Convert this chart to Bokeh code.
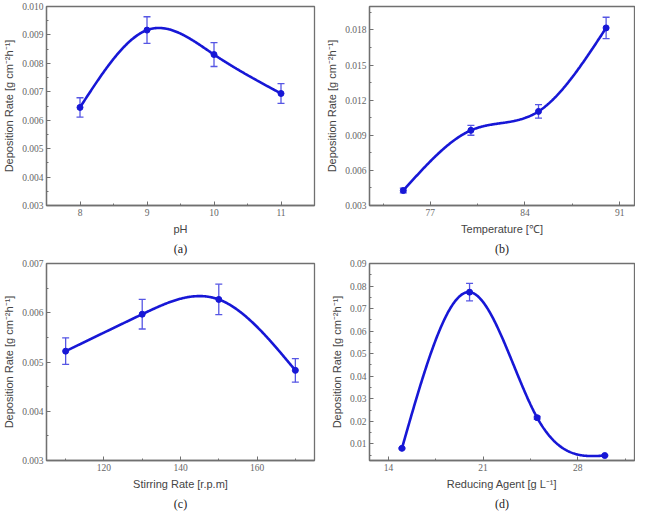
import numpy as np
from bokeh.plotting import figure
from bokeh.layouts import column, row
from bokeh.models import (ColumnDataSource, Whisker, TeeHead, FixedTicker,
                          PrintfTickFormatter, Range1d, Title)
from bokeh.embed import file_html
from bokeh.resources import INLINE

# ---------------- data ----------------
ph = [8, 9, 10, 11]
rate_ph = [0.00645, 0.00917, 0.00831, 0.00694]
err_ph = [0.00034, 0.00047, 0.00042, 0.00035]

temp = [75, 80, 85, 90]
rate_temp = [0.00428, 0.00942, 0.01104, 0.01817]
err_temp = [0.00020, 0.00042, 0.00058, 0.00091]

stir = [110, 130, 150, 170]
rate_stir = [0.00522, 0.00597, 0.00627, 0.00483]
err_stir = [0.00027, 0.00030, 0.00031, 0.00024]

agent = [15, 20, 25, 30]
rate_agent = [0.0080, 0.0773, 0.0216, 0.0048]
err_agent = [0.0003, 0.0039, 0.0006, 0.0003]

ticks_ph = [8, 9, 10, 11]
ticks_temp = [77, 84, 91]
ticks_stir = [120, 140, 160]
ticks_agent = [14, 21, 28]
yticks_ph = [0.003, 0.004, 0.005, 0.006, 0.007, 0.008, 0.009, 0.010]
yticks_temp = [0.003, 0.006, 0.009, 0.012, 0.015, 0.018]
yticks_stir = [0.003, 0.004, 0.005, 0.006, 0.007]
yticks_agent = [0.01, 0.02, 0.03, 0.04, 0.05, 0.06, 0.07, 0.08, 0.09]

YLABEL = "Deposition Rate [g cm\u207b\u00b2h\u207b\u00b9]"
LINE = "#1717d6"
ERR = "#5656e4"
FRAME = "#707070"


def natural_spline(x, y, n=300):
    x = np.asarray(x, float)
    y = np.asarray(y, float)
    h = np.diff(x)
    m = len(x)
    A = np.zeros((m, m))
    r = np.zeros(m)
    A[0, 0] = A[-1, -1] = 1
    for i in range(1, m - 1):
        A[i, i - 1] = h[i - 1]
        A[i, i] = 2 * (h[i - 1] + h[i])
        A[i, i + 1] = h[i]
        r[i] = 3 * ((y[i + 1] - y[i]) / h[i] - (y[i] - y[i - 1]) / h[i - 1])
    c = np.linalg.solve(A, r)
    b = (y[1:] - y[:-1]) / h - h * (2 * c[:-1] + c[1:]) / 3
    d = (c[1:] - c[:-1]) / (3 * h)
    xs = np.linspace(x[0], x[-1], n)
    idx = np.clip(np.searchsorted(x, xs) - 1, 0, m - 2)
    dx = xs - x[idx]
    ys = y[idx] + b[idx] * dx + c[idx] * dx ** 2 + d[idx] * dx ** 3
    return xs, ys


def minors(t):
    step = t[1] - t[0]
    out = [t[0] - step / 2] + [v + step / 2 for v in t]
    return out


def panel(x, y, e, xr, yr, xt, yt, fmt, xlabel, cap, fw, fh, bl, br):
    p = figure(frame_width=fw, frame_height=fh, x_range=Range1d(*xr),
               y_range=Range1d(*yr), output_backend="svg",
               toolbar_location=None, min_border_left=bl, min_border_right=br,
               min_border_top=6, min_border_bottom=0)
    p.xgrid.visible = False
    p.ygrid.visible = False
    p.outline_line_color = FRAME
    p.outline_line_width = 1.3
    p.background_fill_color = "white"
    p.border_fill_color = "white"
    p.xaxis.ticker = FixedTicker(ticks=xt, minor_ticks=minors(xt))
    p.yaxis.ticker = FixedTicker(ticks=yt, minor_ticks=minors(yt))
    p.yaxis.formatter = PrintfTickFormatter(format=fmt)
    for ax in (p.xaxis[0], p.yaxis[0]):
        ax.axis_line_color = FRAME
        ax.axis_line_width = 1.3
        ax.major_tick_line_color = FRAME
        ax.minor_tick_line_color = FRAME
        ax.major_tick_in = 4
        ax.major_tick_out = 0
        ax.minor_tick_in = 2
        ax.minor_tick_out = 0
        ax.major_label_text_font = "Liberation Serif"
        ax.major_label_text_font_size = "9.5px"
        ax.major_label_text_color = "#666666"
        ax.major_label_standoff = 3
        ax.axis_label_text_font = "Liberation Sans"
        ax.axis_label_text_font_size = "11px"
        ax.axis_label_text_font_style = "normal"
        ax.axis_label_text_color = "#444444"
        ax.axis_label_standoff = 4
    p.xaxis.axis_label = xlabel
    p.yaxis.axis_label = YLABEL

    xs, ys = natural_spline(x, y)
    p.line(xs, ys, line_width=2.6, color=LINE)
    src = ColumnDataSource(dict(base=x, upper=[a + b for a, b in zip(y, e)],
                                lower=[a - b for a, b in zip(y, e)]))
    wh = Whisker(source=src, base="base", upper="upper", lower="lower",
                 line_color=ERR, line_width=1.3,
                 upper_head=TeeHead(size=7, line_color=ERR, line_width=1.3),
                 lower_head=TeeHead(size=7, line_color=ERR, line_width=1.3))
    p.add_layout(wh)
    p.scatter(x, y, size=6, color=LINE)

    t = Title(text=cap, align="center", text_font="Liberation Serif",
              text_font_size="12px", text_font_style="normal",
              text_color="#222222", standoff=4)
    p.add_layout(t, "below")
    return p


pa = panel(ph, rate_ph, err_ph, (7.5, 11.5), (0.003, 0.010), ticks_ph,
           yticks_ph, "%.3f", "pH", "(a)", 268, 199, 41, 5)
pb = panel(temp, rate_temp, err_temp, (72.5, 92.1), (0.003, 0.020), ticks_temp,
           yticks_temp, "%.3f", "Temperature [\u2103]", "(b)", 265, 199, 50, 1)
pc = panel(stir, rate_stir, err_stir, (105, 175), (0.003, 0.007), ticks_stir,
           yticks_stir, "%.3f", "Stirring Rate [r.p.m]", "(c)", 268, 197, 41, 5)
pd = panel(agent, rate_agent, err_agent, (12.6, 32.2), (0.0026, 0.09),
           ticks_agent, yticks_agent, "%.2f", "Reducing Agent [g L\u207b\u00b9]",
           "(d)", 265, 197, 50, 1)

layout = column(row(pa, pb), row(pc, pd))
open("out.html", "w").write(file_html(layout, INLINE))
